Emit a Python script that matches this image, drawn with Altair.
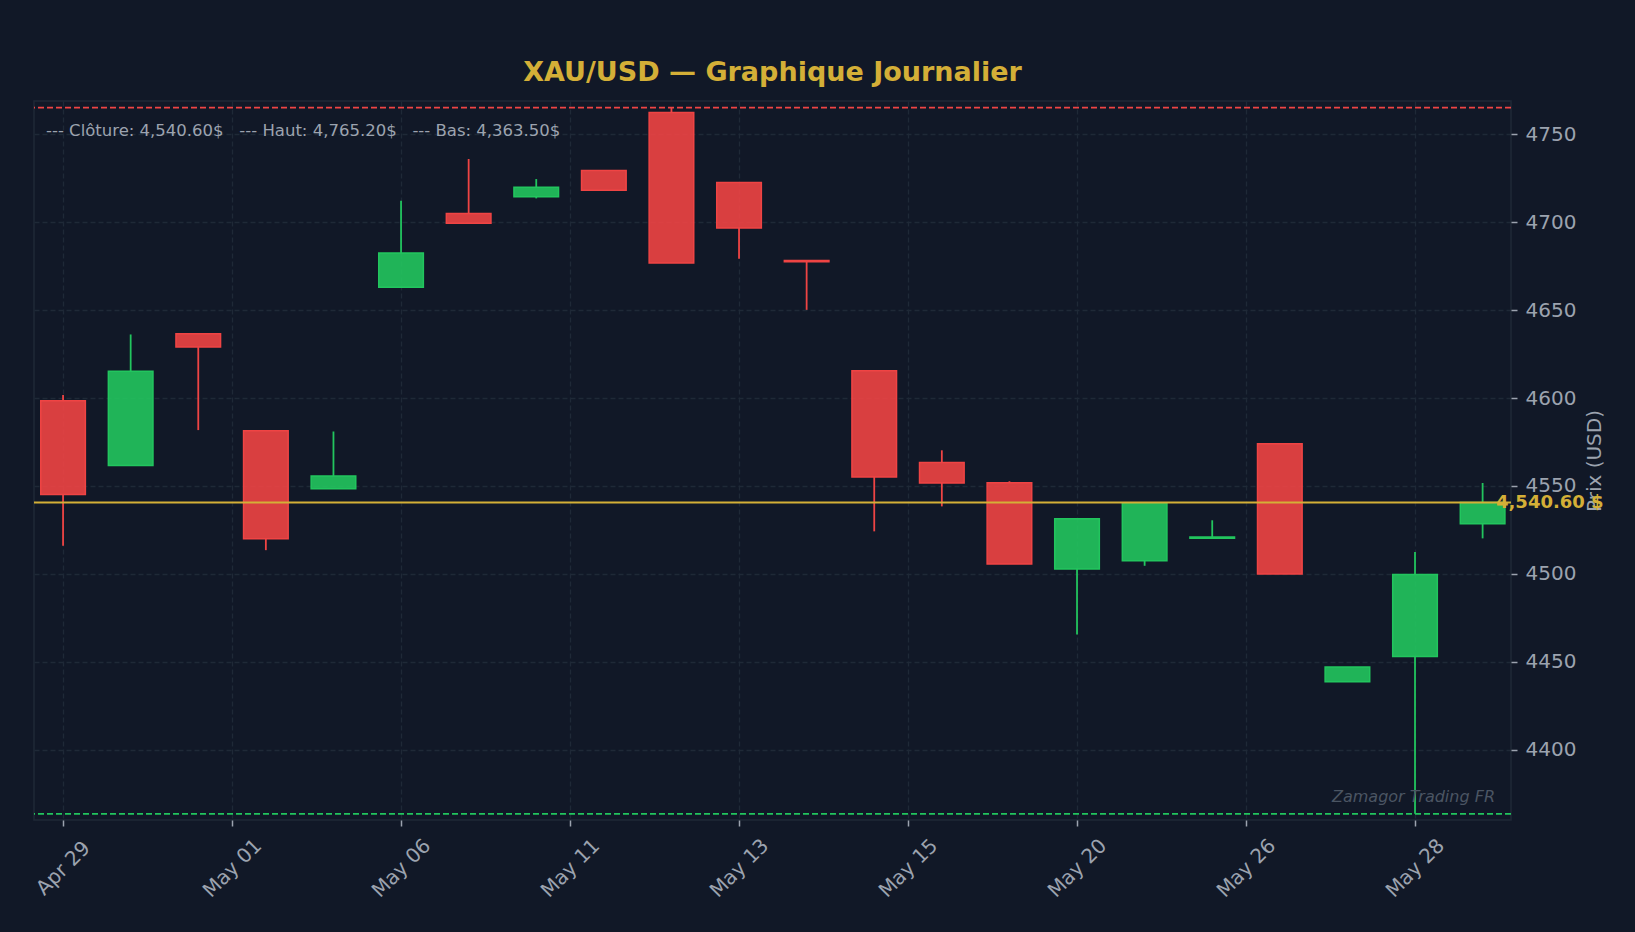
import json
import altair as alt
import pandas as pd

# ---------------- data ----------------
tick_labels = ["Apr 29", "May 01", "May 06", "May 11", "May 13",
               "May 15", "May 20", "May 26", "May 28"]
tick_step = 2.5

opens = [4598.5, 4561.6, 4636.6, 4581.4, 4548.5, 4663.0, 4705.0, 4714.5,
         4729.5, 4762.5, 4722.7, 4678.3, 4615.5, 4563.3, 4551.9, 4502.8,
         4507.5, 4520.3, 4574.0, 4438.6, 4453.0, 4528.5]
highs = [4601.8, 4636.2, 4636.6, 4581.4, 4581.0, 4712.2, 4736.0, 4724.6,
         4729.5, 4765.2, 4722.7, 4678.3, 4615.5, 4570.3, 4552.7, 4531.3,
         4540.5, 4530.5, 4574.0, 4447.1, 4512.5, 4551.7]
lows = [4516.0, 4561.6, 4581.8, 4513.5, 4548.5, 4663.0, 4699.5, 4713.6,
        4718.2, 4676.9, 4679.2, 4650.2, 4524.2, 4538.4, 4505.6, 4465.5,
        4504.6, 4520.3, 4500.0, 4438.6, 4363.5, 4520.2]
closes = [4545.2, 4615.2, 4629.0, 4520.0, 4555.7, 4682.5, 4699.5, 4719.9,
          4718.2, 4676.9, 4696.8, 4677.6, 4555.1, 4551.7, 4505.6, 4531.3,
          4540.5, 4521.0, 4500.0, 4447.1, 4499.6, 4540.6]

last_close = closes[-1]
max_high = max(highs)
min_low = min(lows)

df = pd.DataFrame({
    "i": list(range(len(opens))),
    "open": opens, "high": highs, "low": lows, "close": closes,
})
df["dir"] = ["up" if c >= o else "down" for o, c in zip(opens, closes)]

# ---------------- styling ----------------
BG = "#111827"
GRID = "#1f2937"
TXT = "#9ca3af"
GOLD = "#d4af37"
GREEN = "#22c55e"
RED = "#ef4444"
FONT = "DejaVu Sans"

tick_values = [k * tick_step for k in range(len(tick_labels))]
label_expr = json.dumps(tick_labels) + "[round(datum.value / %s)]" % tick_step

x_scale = alt.Scale(domain=[-0.43, 21.42], nice=False, zero=False)
y_scale = alt.Scale(domain=[4360, 4769], nice=False, zero=False)
col_scale = alt.Scale(domain=["up", "down"], range=[GREEN, RED])

x_axis = alt.Axis(
    values=tick_values, labelExpr=label_expr, title=None,
    labelAngle=315, labelAlign="center", labelBaseline="middle",
    labelPadding=42, labelFontSize=20, labelColor=TXT, labelFont=FONT,
    labelOverlap=False, tickColor=TXT, tickSize=6, tickWidth=1.5,
    domain=False, grid=True, gridColor=GRID, gridDash=[5, 3], gridWidth=1.3,
)
y_axis = alt.Axis(
    orient="right", values=list(range(4400, 4751, 50)), format="d",
    labelFontSize=20, labelColor=TXT, labelFont=FONT, labelPadding=8,
    tickColor=TXT, tickSize=6, tickWidth=1.5, domain=False,
    grid=True, gridColor=GRID, gridDash=[5, 3], gridWidth=1.3,
    title="Prix (USD)", titleFontSize=20, titleColor=TXT, titleFont=FONT,
    titleFontWeight="normal", titleAngle=270, titleBaseline="top",
    titlePadding=9,
)

base = alt.Chart(df).transform_calculate(
    body_lo="min(datum.open, datum.close)",
    body_hi="max(datum.open, datum.close)",
    x0="datum.i - 0.33", x1="datum.i + 0.33",
)

color_enc = alt.Color("dir:N", scale=col_scale, legend=None)

wick_low = base.mark_rule(strokeWidth=1.8).encode(
    x=alt.X("i:Q", scale=x_scale, axis=x_axis),
    y=alt.Y("low:Q", scale=y_scale, axis=y_axis),
    y2="body_lo:Q",
    color=color_enc,
)
wick_high = base.mark_rule(strokeWidth=1.8).encode(
    x=alt.X("i:Q", scale=x_scale, axis=x_axis),
    y=alt.Y("body_hi:Q", scale=y_scale, axis=y_axis),
    y2="high:Q",
    color=color_enc,
)

bodies = base.mark_rect(strokeWidth=1.5, fillOpacity=0.9).encode(
    x=alt.X("x0:Q", scale=x_scale, axis=x_axis),
    x2="x1:Q",
    y=alt.Y("open:Q", scale=y_scale, axis=y_axis),
    y2="close:Q",
    fill=alt.Fill("dir:N", scale=col_scale, legend=None),
    stroke=alt.Stroke("dir:N", scale=col_scale, legend=None),
)

high_line = alt.Chart(pd.DataFrame({"v": [max_high]})).mark_rule(
    color=RED, strokeDash=[6, 3], strokeWidth=1.8
).encode(y=alt.Y("v:Q", scale=y_scale, axis=y_axis))

low_line = alt.Chart(pd.DataFrame({"v": [min_low]})).mark_rule(
    color=GREEN, strokeDash=[6, 3], strokeWidth=1.8
).encode(y=alt.Y("v:Q", scale=y_scale, axis=y_axis))

close_line = alt.Chart(pd.DataFrame({"v": [last_close]})).mark_rule(
    color=GOLD, strokeWidth=2.2
).encode(y=alt.Y("v:Q", scale=y_scale, axis=y_axis))

close_label = alt.Chart(pd.DataFrame({
    "v": [last_close], "t": [f"{last_close:,.2f} $"]
})).mark_text(
    align="left", baseline="middle", font=FONT, fontSize=18,
    fontWeight="bold", color=GOLD
).encode(
    y=alt.Y("v:Q", scale=y_scale, axis=y_axis),
    x=alt.value(1462),
    text="t:N",
)

sp = "\u00a0\u00a0\u00a0"
info_text = (f"--- Clôture: {last_close:,.2f}${sp}--- Haut: {max_high:,.2f}$"
             f"{sp}--- Bas: {min_low:,.2f}$")
info = alt.Chart(pd.DataFrame({"t": [info_text]})).mark_text(
    align="left", baseline="middle", font=FONT, fontSize=16.5, color=TXT
).encode(x=alt.value(12), y=alt.value(30), text="t:N")

watermark = alt.Chart(pd.DataFrame({"t": ["Zamagor Trading FR"]})).mark_text(
    align="right", baseline="middle", font=FONT, fontSize=16,
    fontStyle="italic", color="#4b5563"
).encode(x=alt.value(1461), y=alt.value(696), text="t:N")

chart = alt.layer(
    wick_low, wick_high, bodies, high_line, low_line, close_line,
    close_label, info, watermark
).properties(
    width=1477, height=719,
    background=BG,
    padding={"left": 24, "top": 51, "right": 10, "bottom": 10},
    title=alt.TitleParams(
        "XAU/USD — Graphique Journalier", font=FONT, fontSize=27,
        fontWeight="bold", color=GOLD, anchor="middle", frame="group",
        offset=14,
    ),
).configure_view(stroke="#1f2937", strokeWidth=1.5)

chart.save("out.html", embed_options={
    "renderer": "svg", "actions": False,
    "defaultStyle": "body { background: #111827; }",
})
